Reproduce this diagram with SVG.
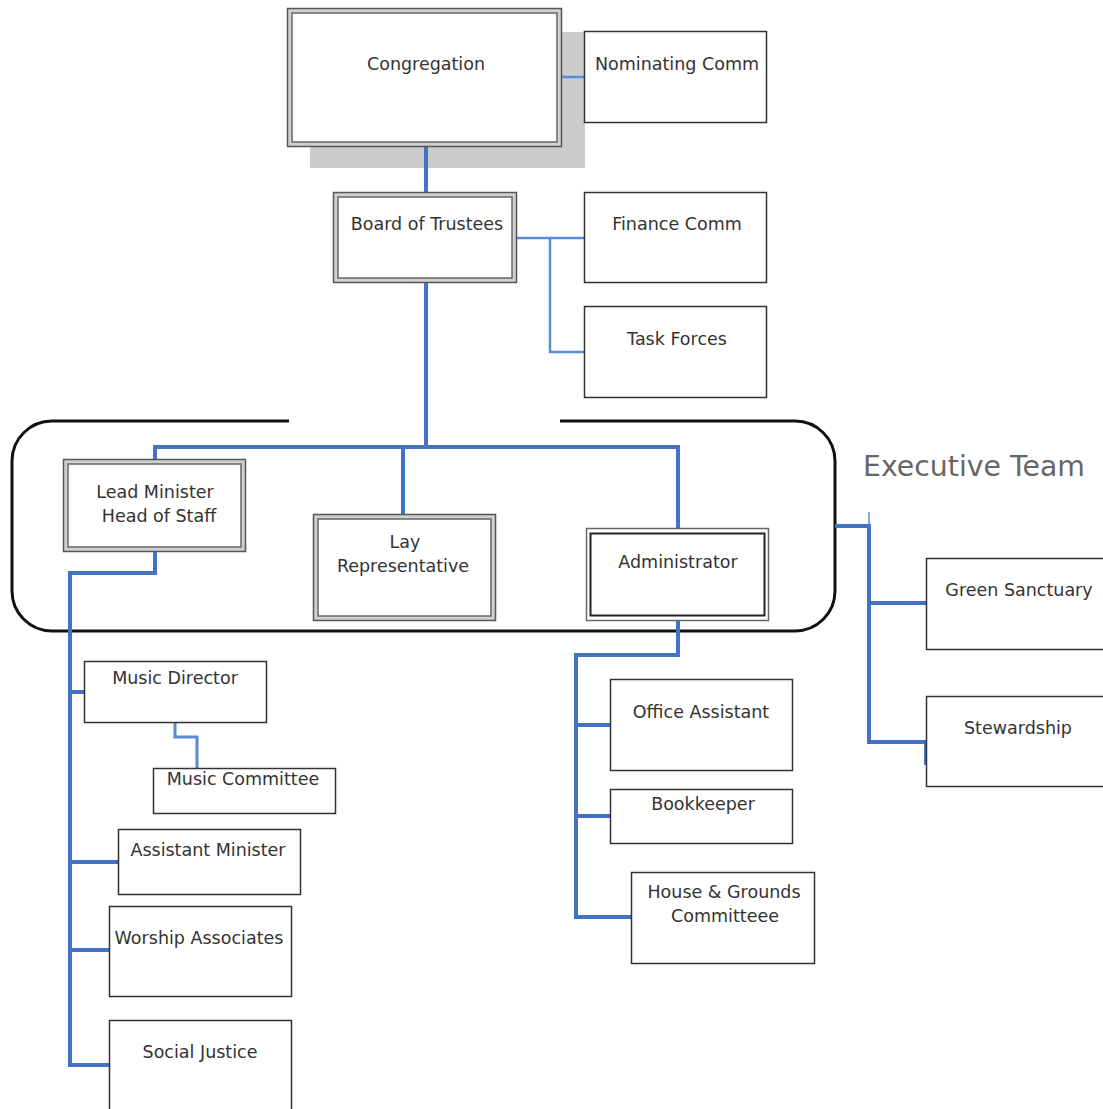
<svg xmlns="http://www.w3.org/2000/svg" width="1103" height="1109" viewBox="0 0 1103 1109">
<style>
text{font-family:"DejaVu Sans","Liberation Sans",sans-serif;font-size:17.5px;fill:#333;text-anchor:middle}
.box{fill:#fff;stroke:#333;stroke-width:1.5}
.dbo{fill:#d0d0d0;stroke:#555;stroke-width:1.5}
.dbi{fill:#fff;stroke:#666;stroke-width:1.5}
.c{fill:none;stroke:#4472c4;stroke-width:4}
.ct{fill:none;stroke:#5b8bd6;stroke-width:2.5}
</style>
<rect width="1103" height="1109" fill="#fff"/>
<rect x="310" y="32" width="275" height="136" fill="#cccccc"/>
<path d="M560,421 H795 A40,40 0 0 1 835,461 V591 A40,40 0 0 1 795,631 H52 A40,40 0 0 1 12,591 V461 A40,40 0 0 1 52,421 H289" fill="none" stroke="#111" stroke-width="3"/>
<text x="863" y="476" style="font-size:28px;fill:#666;text-anchor:start" textLength="222" lengthAdjust="spacingAndGlyphs">Executive Team</text>
<g id="connectors">
<path class="c" d="M426,147 V192"/>
<path class="ct" d="M562,77 H584"/>
<path class="ct" d="M517,238 H584 M550,238 V352 H584"/>
<path class="c" d="M426,283 V447 M155,460 V447 H678 V529 M403,447 V515"/>
<path class="c" d="M155,552 V573 H70 V1065 H109 M70,692 H85 M70,862 H118 M70,950 H109"/>
<path class="ct" style="stroke-width:3" d="M175,722 V737 H197 V770"/>
<path class="c" d="M678,621 V655 H576 V917 H631 M576,725 H610 M576,816 H610"/>
<path class="c" d="M835,526 H869 V742 H926 V765 M869,603 H926"/>
<path class="ct" style="stroke-width:1.5" d="M869,512 V526"/>
</g>
<g id="congregation"><rect class="dbo" x="287.5" y="8.5" width="274" height="138"/><rect class="dbi" x="292" y="13" width="265" height="129"/><text x="426" y="70">Congregation</text></g>
<g id="nominating"><rect class="box" x="584.5" y="31.5" width="182" height="91"/><text x="677" y="70">Nominating Comm</text></g>
<g id="board"><rect class="dbo" x="333.5" y="192.5" width="183" height="90"/><rect class="dbi" x="338" y="197" width="174" height="81"/><text x="427" y="230">Board of Trustees</text></g>
<g id="finance"><rect class="box" x="584.5" y="192.5" width="182" height="90"/><text x="677" y="230">Finance Comm</text></g>
<g id="taskforces"><rect class="box" x="584.5" y="306.5" width="182" height="91"/><text x="677" y="345">Task Forces</text></g>
<g id="leadminister"><rect class="dbo" x="63.5" y="459.5" width="182" height="92"/><rect class="dbi" x="68" y="464" width="173" height="83"/><text x="155" y="498">Lead Minister</text><text x="159" y="522">Head of Staff</text></g>
<g id="layrep"><rect class="dbo" x="313.5" y="514.5" width="182" height="106"/><rect class="dbi" x="318" y="519" width="173" height="97"/><text x="405" y="548">Lay</text><text x="403" y="572">Representative</text></g>
<g id="administrator"><rect x="586.5" y="528.5" width="182" height="92" fill="#fff" stroke="#666" stroke-width="1.5"/><rect x="590.5" y="533.5" width="174" height="82" fill="#fff" stroke="#222" stroke-width="2"/><text x="678" y="568">Administrator</text></g>
<g id="greensanctuary"><rect class="box" x="926.5" y="558.5" width="190" height="91"/><text x="1019" y="596">Green Sanctuary</text></g>
<g id="stewardship"><rect class="box" x="926.5" y="696.5" width="190" height="90"/><text x="1018" y="734">Stewardship</text></g>
<g id="musicdirector"><rect class="box" x="84.5" y="661.5" width="182" height="61"/><text x="175" y="684">Music Director</text></g>
<g id="musiccommittee"><rect class="box" x="153.5" y="768.5" width="182" height="45"/><text x="243" y="785">Music Committee</text></g>
<g id="assistantminister"><rect class="box" x="118.5" y="829.5" width="182" height="65"/><text x="208" y="856">Assistant Minister</text></g>
<g id="worship"><rect class="box" x="109.5" y="906.5" width="182" height="90"/><text x="199" y="944">Worship Associates</text></g>
<g id="socialjustice"><rect class="box" x="109.5" y="1020.5" width="182" height="100"/><text x="200" y="1058">Social Justice</text></g>
<g id="officeassistant"><rect class="box" x="610.5" y="679.5" width="182" height="91"/><text x="701" y="718">Office Assistant</text></g>
<g id="bookkeeper"><rect class="box" x="610.5" y="789.5" width="182" height="54"/><text x="703" y="810">Bookkeeper</text></g>
<g id="housegrounds"><rect class="box" x="631.5" y="872.5" width="183" height="91"/><text x="724" y="898">House &amp; Grounds</text><text x="725" y="922">Committeee</text></g>
</svg>
